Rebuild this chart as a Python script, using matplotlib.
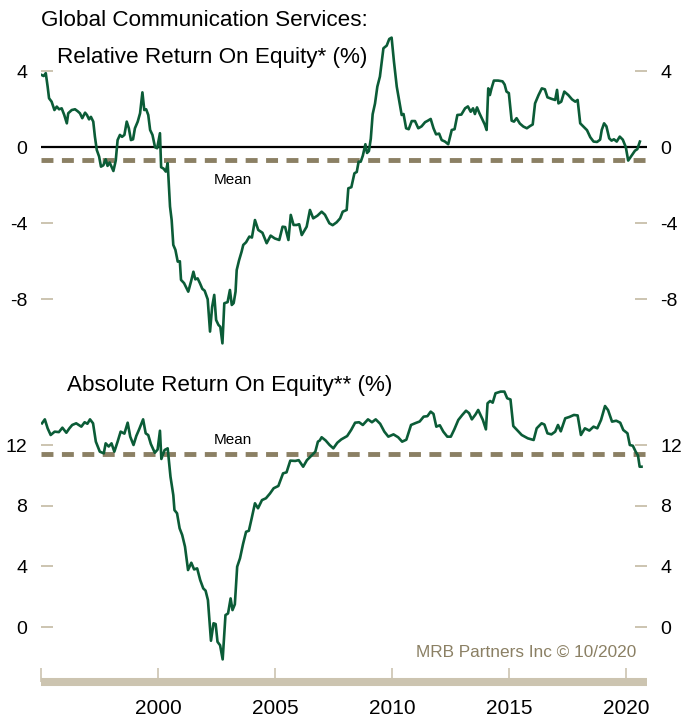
import matplotlib
matplotlib.use("Agg")
import matplotlib.pyplot as plt

# relative return on equity (%), decimal year / value
rel_dates = [1995.02, 1995.1, 1995.19, 1995.27, 1995.33, 1995.44, 1995.56, 1995.66, 1995.76, 1995.87,
             1995.98, 1996.09, 1996.15, 1996.3, 1996.44, 1996.55, 1996.65, 1996.75, 1996.87, 1996.95,
             1997.04, 1997.12, 1997.22, 1997.29, 1997.37, 1997.47, 1997.55, 1997.65, 1997.75, 1997.83,
             1997.92, 1998.0, 1998.08, 1998.18, 1998.26, 1998.36, 1998.45, 1998.55, 1998.65, 1998.74,
             1998.83, 1998.92, 1999.0, 1999.12, 1999.22, 1999.32, 1999.4, 1999.48, 1999.57, 1999.65,
             1999.75, 1999.86, 1999.95, 2000.07, 2000.12, 2000.22, 2000.32, 2000.4, 2000.45, 2000.5,
             2000.57, 2000.64, 2000.73, 2000.83, 2000.92, 2000.97, 2001.1, 2001.28, 2001.4, 2001.5,
             2001.58, 2001.68, 2001.78, 2001.88, 2001.98, 2002.11, 2002.21, 2002.3, 2002.39, 2002.47,
             2002.57, 2002.65, 2002.74, 2002.82, 2002.96, 2003.06, 2003.14, 2003.22, 2003.3, 2003.35,
             2003.45, 2003.56, 2003.63, 2003.75, 2003.89, 2004.0, 2004.13, 2004.27, 2004.45, 2004.63,
             2004.8, 2004.98, 2005.17, 2005.31, 2005.42, 2005.56, 2005.66, 2005.78, 2005.91, 2006.02,
             2006.13, 2006.34, 2006.48, 2006.62, 2006.8, 2006.98, 2007.12, 2007.31, 2007.45, 2007.62,
             2007.77, 2007.88, 2008.05, 2008.12, 2008.25, 2008.38, 2008.48, 2008.56, 2008.65, 2008.74,
             2008.85, 2008.92, 2009.0, 2009.08, 2009.16, 2009.26, 2009.36, 2009.47, 2009.62, 2009.76,
             2009.87, 2009.97, 2010.07, 2010.19, 2010.3, 2010.4, 2010.48, 2010.59, 2010.7, 2010.83,
             2010.97, 2011.11, 2011.25, 2011.4, 2011.52, 2011.64, 2011.76, 2011.87, 2012.0, 2012.11,
             2012.25, 2012.39, 2012.54, 2012.66, 2012.78, 2012.95, 2013.11, 2013.23, 2013.35, 2013.45,
             2013.53, 2013.62, 2013.72, 2013.86, 2013.95, 2014.03, 2014.1, 2014.17, 2014.24, 2014.34,
             2014.52, 2014.71, 2014.8, 2014.88, 2014.98, 2015.1, 2015.2, 2015.31, 2015.45, 2015.6,
             2015.75, 2015.89, 2016.0, 2016.1, 2016.25, 2016.39, 2016.52, 2016.63, 2016.8, 2016.96,
             2017.04, 2017.1, 2017.22, 2017.35, 2017.52, 2017.68, 2017.82, 2017.92, 2018.03, 2018.2,
             2018.32, 2018.46, 2018.6, 2018.75, 2018.88, 2018.95, 2019.05, 2019.15, 2019.27, 2019.37,
             2019.47, 2019.59, 2019.72, 2019.85, 2019.98, 2020.08, 2020.22, 2020.37, 2020.47, 2020.58]
rel_values = [3.8, 3.75, 3.9, 3.19, 2.58, 2.4, 1.96, 2.14, 2.0, 2.05,
              1.7, 1.26, 1.79, 1.96, 2.0, 1.9, 1.79, 1.53, 1.82, 1.7,
              1.47, 1.6, 1.35, 0.56, -0.14, -0.49, -1.02, -0.95, -0.63, -0.98,
              -0.8, -1.02, -1.25, -0.7, 0.38, 0.65, 0.55, 0.65, 1.35, 1.0,
              0.38, 0.42, 1.0, 1.35, 1.79, 2.89, 1.96, 2.0, 1.7, 0.91,
              0.65, 0.0, -0.05, 0.74, -1.05, -1.12, -1.28, -0.84, -2.0, -3.12,
              -3.83, -5.14, -5.4, -6.02, -6.0, -6.98, -7.15, -7.6, -7.05, -6.55,
              -6.95, -6.9, -7.16, -7.45, -7.55, -8.0, -9.7, -8.4, -7.77, -9.09,
              -9.35, -9.45, -10.32, -8.21, -8.15, -7.51, -8.3, -8.2, -7.6, -6.46,
              -5.95, -5.49, -5.14, -5.0, -4.7, -4.75, -3.83, -4.35, -4.5, -5.05,
              -4.65, -4.8, -4.88, -4.18, -4.2, -4.88, -3.56, -4.09, -4.09, -4.05,
              -4.62, -4.18, -3.3, -3.74, -3.6, -3.39, -3.55, -4.0, -4.1, -3.95,
              -3.74, -3.39, -3.3, -2.16, -2.1, -1.37, -1.3, -0.76, -0.76, -0.44,
              0.16, -0.3, -0.2, 0.45, 1.74, 2.3, 3.19, 3.72, 5.21, 5.35,
              5.7, 5.77, 4.51, 3.19, 2.4, 1.7, 1.75, 1.0, 0.95, 1.38,
              1.38, 1.0, 1.1, 1.32, 1.4, 1.49, 1.0, 0.68, 0.72, 0.38,
              0.3, 0.16, 0.91, 0.95, 1.7, 1.72, 2.05, 2.15, 1.87, 2.05,
              1.75, 2.1, 1.8, 1.44, 1.2, 0.91, 3.1, 2.75, 3.1, 3.51,
              3.51, 3.47, 3.3, 2.93, 2.85, 1.4, 1.35, 1.53, 1.25, 1.09,
              1.0, 1.12, 1.2, 2.31, 2.75, 3.1, 3.05, 2.63, 2.55, 2.49,
              3.02, 2.31, 2.4, 2.93, 2.75, 2.52, 2.4, 2.49, 1.26, 1.05,
              0.9, 0.53, 0.3, 0.28, 0.4, 0.91, 1.26, 1.1, 0.47, 0.35,
              0.42, 0.3, 0.56, 0.4, 0.0, -0.7, -0.45, -0.18, -0.1, 0.3]

# absolute return on equity (%)
abs_dates = [1995.03, 1995.15, 1995.27, 1995.4, 1995.57, 1995.75, 1995.9, 1996.07, 1996.2, 1996.32,
             1996.49, 1996.71, 1996.85, 1996.97, 1997.08, 1997.21, 1997.33, 1997.5, 1997.67, 1997.75,
             1997.88, 1998.0, 1998.12, 1998.26, 1998.39, 1998.55, 1998.69, 1998.8, 1998.94, 1999.06,
             1999.18, 1999.35, 1999.46, 1999.57, 1999.68, 1999.85, 1999.97, 2000.07, 2000.13, 2000.27,
             2000.4, 2000.52, 2000.64, 2000.69, 2000.8, 2000.91, 2001.02, 2001.14, 2001.27, 2001.41,
             2001.53, 2001.66, 2001.79, 2001.92, 2002.02, 2002.12, 2002.25, 2002.36, 2002.45, 2002.53,
             2002.64, 2002.75, 2002.87, 2002.98, 2003.09, 2003.17, 2003.27, 2003.37, 2003.49, 2003.62,
             2003.75, 2003.87, 2003.99, 2004.13, 2004.26, 2004.43, 2004.6, 2004.77, 2004.93, 2005.13,
             2005.33, 2005.48, 2005.64, 2005.85, 2006.0, 2006.19, 2006.35, 2006.71, 2006.82, 2006.9,
             2006.98, 2007.15, 2007.32, 2007.48, 2007.65, 2007.82, 2008.07, 2008.24, 2008.41, 2008.58,
             2008.74, 2008.96, 2009.13, 2009.29, 2009.48, 2009.66, 2009.83, 2010.05, 2010.25, 2010.42,
             2010.6, 2010.8, 2011.0, 2011.17, 2011.34, 2011.5, 2011.64, 2011.76, 2011.88, 2012.03,
             2012.18, 2012.35, 2012.5, 2012.65, 2012.82, 2012.99, 2013.15, 2013.28, 2013.4, 2013.55,
             2013.67, 2013.78, 2013.87, 2014.0, 2014.07, 2014.18, 2014.29, 2014.41, 2014.63, 2014.79,
             2014.91, 2015.05, 2015.17, 2015.35, 2015.53, 2015.79, 2016.04, 2016.17, 2016.38, 2016.5,
             2016.63, 2016.8, 2016.96, 2017.08, 2017.2, 2017.39, 2017.57, 2017.76, 2017.92, 2018.06,
             2018.23, 2018.42, 2018.6, 2018.76, 2018.92, 2019.09, 2019.22, 2019.39, 2019.57, 2019.74,
             2019.87, 2020.05, 2020.15, 2020.28, 2020.4, 2020.5, 2020.57, 2020.65]
abs_values = [13.43, 13.69, 13.1, 12.66, 12.88, 12.85, 13.14, 12.81, 13.1, 13.32,
              13.43, 13.21, 13.5, 13.4, 13.69, 13.43, 12.22, 11.56, 11.45, 12.11,
              11.9, 12.11, 11.56, 12.22, 12.88, 12.75, 13.47, 12.55, 12.0, 12.6,
              13.03, 13.69, 12.77, 12.65, 12.07, 11.49, 11.7, 12.94, 11.08, 11.67,
              11.78, 9.91, 8.7, 7.71, 7.5, 6.51, 6.07, 5.3, 3.76, 4.24,
              3.8, 3.87, 3.1, 2.55, 2.4, 1.78, -0.9, 0.25, 0.2, -0.97,
              -1.2, -2.13, 0.79, 0.9, 1.89, 1.12, 1.5, 3.98, 4.53, 5.47,
              6.28, 6.35, 7.17, 8.16, 7.83, 8.37, 8.49, 8.8, 9.15, 9.3,
              10.13, 10.2, 10.97, 10.95, 11.0, 10.57, 11.0, 11.56, 12.22, 12.3,
              12.51, 12.3, 12.0, 11.78, 12.15, 12.37, 12.59, 12.99, 13.47, 13.5,
              13.32, 13.69, 13.5, 13.69, 13.4, 12.88, 12.55, 12.7, 12.51, 12.22,
              12.35, 13.32, 13.45, 13.55, 13.87, 13.9, 14.2, 14.05, 13.21, 13.3,
              12.88, 12.55, 12.55, 13.03, 13.65, 13.98, 14.26, 14.1, 13.69, 14.0,
              14.31, 13.95, 13.65, 13.03, 14.75, 14.9, 14.79, 15.41, 15.52, 15.52,
              15.08, 15.0, 13.25, 12.95, 12.66, 12.44, 12.33, 13.1, 13.43, 13.35,
              12.77, 12.7, 12.88, 13.32, 12.9, 13.76, 13.85, 13.98, 13.95, 12.66,
              13.1, 12.95, 13.21, 13.1, 13.65, 14.57, 14.3, 13.54, 13.6, 13.47,
              12.99, 12.77, 12.0, 11.95, 11.56, 11.3, 10.57, 10.57]

rel_mean = -0.67
abs_mean = 11.39
rel_yticks = [-8, -4, 0, 4]
abs_yticks = [0, 4, 8, 12]
xticks = [1995, 2000, 2005, 2010, 2015, 2020]
xticklabels = ['', '2000', '2005', '2010', '2015', '2020']

green = '#0b5c37'
tan = '#ccc4b0'
taupe = '#8b8064'

plt.rcParams['font.family'] = ['Liberation Sans', 'DejaVu Sans']
plt.rcParams['axes.unicode_minus'] = False
plt.rcParams['lines.scale_dashes'] = False

fig = plt.figure(figsize=(6.83, 7.17), dpi=100)
ax1 = fig.add_axes([0.0605, 0.5084, 0.8863, 0.4505])
ax2 = fig.add_axes([0.0605, 0.0488, 0.8863, 0.4152])

for ax in (ax1, ax2):
    ax.set_xlim(1995, 2020.87)
    for s in ax.spines.values():
        s.set_visible(False)
    ax.tick_params(axis='y', which='both', left=True, right=True, labelleft=True, labelright=True,
                   direction='in', length=8.6, width=1.4, color=tan, pad=10, labelsize=14)
    ax.patch.set_alpha(0)

# top panel
ax1.axhline(0, color='black', lw=1.6, zorder=2)
ax1.axhline(rel_mean, color=taupe, lw=3.5, dashes=(8.6, 6.1), zorder=2)
ax1.plot(rel_dates, rel_values, color=green, lw=1.9, zorder=3)
ax1.set_ylim(-10.8, 6.2)
ax1.set_yticks(rel_yticks)
ax1.set_xticks([])
ax1.text(2003.19, -1.72, 'Mean', fontsize=11, ha='center', va='center')

# bottom panel
ax2.axhline(abs_mean, color=taupe, lw=3.5, dashes=(8.6, 6.1), zorder=2)
ax2.plot(abs_dates, abs_values, color=green, lw=1.9, zorder=3)
ax2.set_ylim(-3.62, 16)
ax2.set_yticks(abs_yticks)
ax2.set_xticks(xticks)
ax2.set_xticklabels(xticklabels)
ax2.spines['bottom'].set_visible(True)
ax2.spines['bottom'].set_color(tan)
ax2.spines['bottom'].set_linewidth(5.8)
ax2.spines['bottom'].set_capstyle('butt')
ax2.tick_params(axis='x', direction='in', length=10, width=1.2, color=tan, pad=12, labelsize=15)
ax2.text(2003.19, 12.33, 'Mean', fontsize=11, ha='center', va='center')

fig.text(41 / 683, 1 - 21 / 717, 'Global Communication Services:', fontsize=16.2, va='center')
fig.text(57 / 683, 1 - 58 / 717, 'Relative Return On Equity* (%)', fontsize=16.2, va='center')
fig.text(67 / 683, 1 - 385 / 717, 'Absolute Return On Equity** (%)', fontsize=16.2, va='center')
fig.text(636 / 683, 1 - 652 / 717, 'MRB Partners Inc \u00a9 10/2020', fontsize=12.4, color=taupe,
         ha='right', va='center')

plt.savefig('out.png', dpi=100)
